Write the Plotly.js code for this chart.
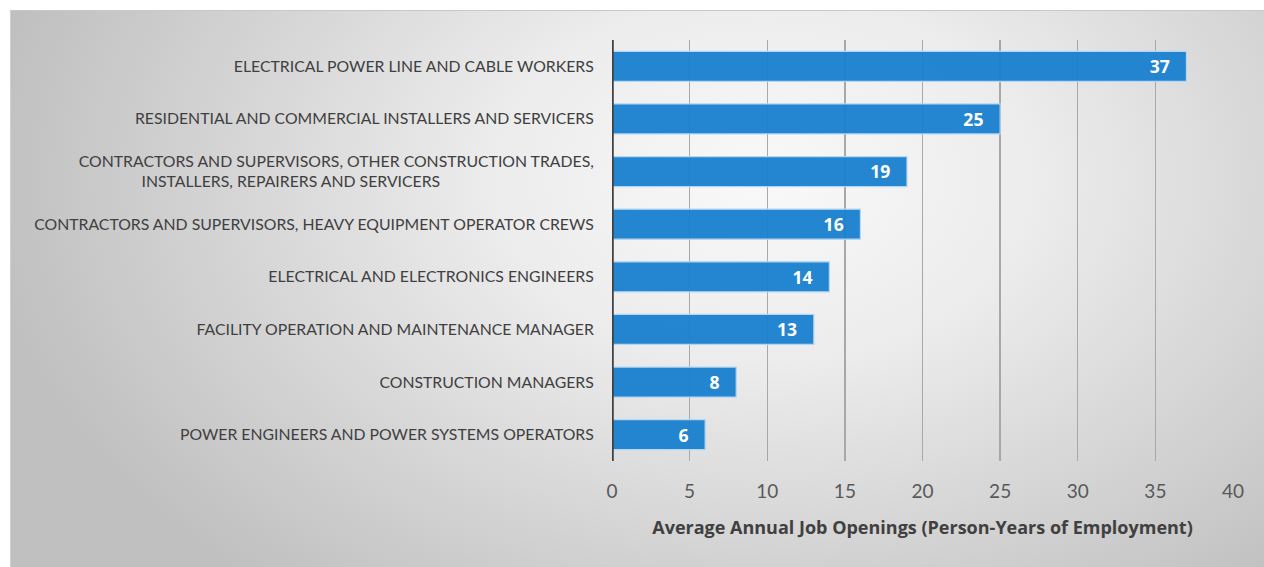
<!DOCTYPE html>
<html>
<head>
<meta charset="utf-8">
<script src="https://cdn.plot.ly/plotly-3.0.1.min.js"></script>
<style>
html,body{margin:0;padding:0;background:#fff;width:1264px;height:567px;overflow:hidden;}
#bg{position:absolute;left:10px;top:10px;width:1254px;height:557px;
background:radial-gradient(ellipse 62% 95% at 60% 30%, #f9f9f9 0%, #ececec 35%, #d4d4d4 70%, #c0c0c0 100%);
border-top:1px solid #c8c8c8;border-left:1px solid #d0d0d0;}
#chart{position:absolute;left:0;top:0;width:1264px;height:567px;}
</style>
</head>
<body>
<div id="bg"></div>
<div id="chart"></div>
<script>
const categories = [
  "ELECTRICAL POWER LINE AND CABLE WORKERS",
  "RESIDENTIAL AND COMMERCIAL INSTALLERS AND SERVICERS",
  "CONTRACTORS AND SUPERVISORS, OTHER CONSTRUCTION TRADES,<br>INSTALLERS, REPAIRERS AND SERVICERS" + "\u00a0".repeat(38),
  "CONTRACTORS AND SUPERVISORS, HEAVY EQUIPMENT OPERATOR CREWS",
  "ELECTRICAL AND ELECTRONICS ENGINEERS",
  "FACILITY OPERATION AND MAINTENANCE MANAGER",
  "CONSTRUCTION MANAGERS",
  "POWER ENGINEERS AND POWER SYSTEMS OPERATORS"
];
const jobOpenings = [37, 25, 19, 16, 14, 13, 8, 6];
const xTickValues = [0, 5, 10, 15, 20, 25, 30, 35, 40];
const xAxisTitle = "Average Annual Job Openings (Person-Years of Employment)";

const trace = {
  type: "bar",
  orientation: "h",
  y: categories,
  x: jobOpenings,
  text: jobOpenings.map(v => String(v) + "\u00a0\u00a0\u00a0"),
  textposition: "inside",
  insidetextanchor: "end",
  textangle: 0,
  textfont: {family: "Open Sans, sans-serif", size: 20.5, color: "#ffffff", weight: "bold"},
  marker: {color: "rgba(24,128,205,0.95)", line: {color: "#b3d6f2", width: 1.2}},
  width: 0.57,
  hoverinfo: "none"
};

const layout = {
  width: 1264, height: 567,
  paper_bgcolor: "rgba(0,0,0,0)",
  plot_bgcolor: "rgba(0,0,0,0)",
  margin: {l: 612, r: 31, t: 40, b: 106},
  showlegend: false,
  font: {family: "Lato, sans-serif", color: "#404040"},
  xaxis: {
    range: [0, 40],
    tickvals: xTickValues,
    showgrid: true, gridcolor: "#a8a8a8", gridwidth: 1.3,
    zeroline: false,
    showline: false,
    ticks: "outside", ticklen: 13, tickcolor: "rgba(0,0,0,0)",
    tickfont: {family: "Lato, sans-serif", size: 19, color: "#595959"},
    title: {text: xAxisTitle, standoff: 20,
      font: {family: "Open Sans, sans-serif", size: 18, color: "#404040", weight: "bold"}},
    fixedrange: true
  },
  yaxis: {
    categoryorder: "array",
    categoryarray: categories.slice().reverse(),
    autorange: false,
    range: [-0.5, 7.5],
    showgrid: false,
    zeroline: false,
    showline: false,
    ticks: "outside", ticklen: 14, tickcolor: "rgba(0,0,0,0)",
    tickfont: {family: "Lato, sans-serif", size: 15.8, color: "#404040"},
    fixedrange: true
  },
  shapes: [{
    type: "line", xref: "x", yref: "paper", x0: 0, x1: 0, y0: 0, y1: 1,
    line: {color: "#404040", width: 3.5}, layer: "above"
  }]
};

Plotly.newPlot("chart", [trace], layout, {staticPlot: true, displayModeBar: false});
</script>
</body>
</html>
